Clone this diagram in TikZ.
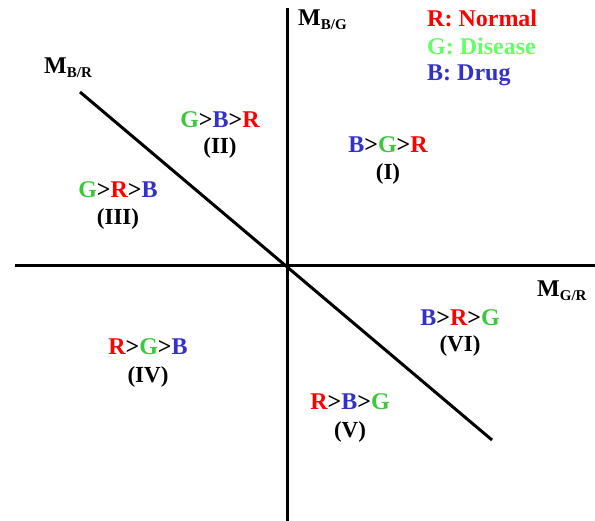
\documentclass[tikz,border=0pt]{standalone}
\usepackage{fontspec}
\setmainfont{Liberation Serif}
\definecolor{cR}{RGB}{255,0,0}
\definecolor{cG}{RGB}{60,200,60}
\definecolor{cGl}{RGB}{100,255,100}
\definecolor{cB}{RGB}{50,50,200}
\newcommand{\lR}{\textcolor{cR}{R}}
\newcommand{\lG}{\textcolor{cG}{G}}
\newcommand{\lB}{\textcolor{cB}{B}}
\begin{document}
\begin{tikzpicture}[x=1pt,y=-1pt,
  axis/.style={line width=3pt},
  lab/.style={font=\fontsize{24}{26}\selectfont\bfseries,inner sep=0pt},
  num/.style={font=\fontsize{23}{25}\selectfont\bfseries,inner sep=0pt},
  leg/.style={font=\fontsize{24}{26}\selectfont\bfseries,inner sep=0pt,anchor=west}]
\useasboundingbox (0,0) rectangle (595,521);
\coordinate (vt) at (287,8);
\coordinate (vb) at (287,521);
\coordinate (hl) at (15,266);
\coordinate (hr) at (595,266);
\coordinate (dt) at (80,92);
\coordinate (db) at (492,440);
\draw[axis] (vt) -- (vb);
\draw[axis] (hl) -- (hr);
\draw[axis] (dt) -- (db);
\node[lab,anchor=west] (mbg) at (298,20) {M\textsubscript{\fontsize{15}{16}\selectfont B/G}};
\node[lab,anchor=west] (mbr) at (44,68) {M\textsubscript{\fontsize{15}{16}\selectfont B/R}};
\node[lab,anchor=west] (mgr) at (537,291) {M\textsubscript{\fontsize{15}{16}\selectfont G/R}};
\node[leg,text=cR] (lr) at (427,18) {R: Normal};
\node[leg,text=cGl] (lg) at (427,46) {G: Disease};
\node[leg,text=cB] (lb) at (427,75) {B: Drug};
\node[lab] (t2) at (220,120) {\lG>\lB>\lR};
\node[num] (n2) at (220,148) {(II)};
\node[lab] (t1) at (388,145) {\lB>\lG>\lR};
\node[num] (n1) at (388,174) {(I)};
\node[lab] (t3) at (118,190) {\lG>\lR>\lB};
\node[num] (n3) at (118,219) {(III)};
\node[lab] (t6) at (460,318) {\lB>\lR>\lG};
\node[num] (n6) at (460,346) {(VI)};
\node[lab] (t4) at (148,347) {\lR>\lG>\lB};
\node[num] (n4) at (148,377) {(IV)};
\node[lab] (t5) at (350,402) {\lR>\lB>\lG};
\node[num] (n5) at (350,432) {(V)};
\end{tikzpicture}
\end{document}
